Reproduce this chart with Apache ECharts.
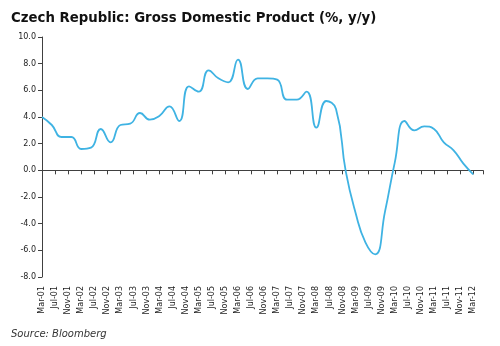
<!DOCTYPE html>
<html>
<head>
<meta charset="utf-8">
<script src="https://cdn.jsdelivr.net/npm/echarts@6/dist/echarts.min.js"></script>
<style>
html,body{margin:0;padding:0;background:#fff;}
#c{width:500px;height:346px;}
</style>
</head>
<body>
<div id="c"></div>
<script>
// Tick labels every 4 months, Mar-01 .. Mar-12
const tickLabels = ["Mar-01","Jul-01","Nov-01","Mar-02","Jul-02","Nov-02","Mar-03","Jul-03","Nov-03",
  "Mar-04","Jul-04","Nov-04","Mar-05","Jul-05","Nov-05","Mar-06","Jul-06","Nov-06","Mar-07","Jul-07",
  "Nov-07","Mar-08","Jul-08","Nov-08","Mar-09","Jul-09","Nov-09","Mar-10","Jul-10","Nov-10","Mar-11",
  "Jul-11","Nov-11","Mar-12"];
// Quarterly observations (months since Mar-01)
const quarterMonths = [0,3,6,9,12,15,18,21,24,27,30,33,36,39,42,45,48,51,54,57,60,63,66,69,72,75,78,81,84,87,90,93,96,99,102,105,108,111,114,117,120,123,126,129,132];
// GDP y/y %
const gdp = [4.0,3.4,2.5,2.5,1.6,1.7,3.1,2.1,3.4,3.5,4.3,3.8,4.1,4.8,3.7,6.3,5.9,7.5,6.9,6.6,8.3,6.1,6.9,6.9,6.8,5.3,5.3,5.9,3.2,5.2,4.6,-0.1,-3.2,-5.4,-6.3,-3.1,0.6,3.7,3.0,3.3,3.1,2.1,1.5,0.5,-0.3];

const chart = echarts.init(document.getElementById('c'), null, {renderer:'canvas'});
const font = 'DejaVu Sans, Verdana, sans-serif';
const axisColor = '#404040';
chart.setOption({
  animation:false,
  backgroundColor:'#fff',
  title:[{
    text:'Czech Republic: Gross Domestic Product (%, y/y)',
    left:6, top:7,
    textStyle:{fontFamily:font,fontSize:13.3,fontWeight:'bold',color:'#111'}
  },{
    text:'Source: Bloomberg',
    left:6, top:324,
    textStyle:{fontFamily:font,fontSize:10,fontStyle:'italic',fontWeight:'normal',color:'#333'}
  }],
  grid:{left:42,right:17,top:37,bottom:69,containLabel:false},
  xAxis:[{
    type:'value', min:0, max:135, interval:4,
    axisLine:{onZero:true,lineStyle:{color:axisColor,width:1}},
    axisTick:{show:true,length:4,inside:false,lineStyle:{color:axisColor}},
    axisLabel:{show:false},
    splitLine:{show:false}
  },{
    type:'value', min:0, max:135, interval:4, position:'bottom',
    axisLine:{show:false,onZero:false},
    axisTick:{show:false},
    axisLabel:{show:true,rotate:90,margin:9,fontFamily:font,fontSize:8,color:'#222',
      showMaxLabel:false,
      formatter:function(v){const i=Math.round(v/4);return (v%4===0 && tickLabels[i])?tickLabels[i]:'';}},
    splitLine:{show:false}
  }],
  yAxis:{
    type:'value', min:-8, max:10, interval:2,
    axisLine:{show:true,lineStyle:{color:axisColor,width:1}},
    axisTick:{show:true,length:4,lineStyle:{color:axisColor}},
    axisLabel:{fontFamily:font,fontSize:8,color:'#222',margin:6,formatter:function(v){return v.toFixed(1);}},
    splitLine:{show:false}
  },
  series:[{
    type:'line', xAxisIndex:0,
    data:quarterMonths.map((m,i)=>[m,gdp[i]]),
    smooth:0.5, symbol:'none',
    lineStyle:{color:'#3fb3e3',width:1.8},
    z:3
  }]
});
</script>
</body>
</html>
